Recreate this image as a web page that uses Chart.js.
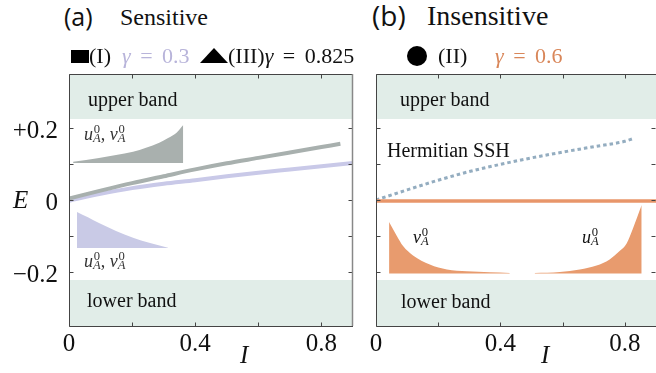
<!DOCTYPE html>
<html>
<head>
<meta charset="utf-8">
<script src="https://cdn.jsdelivr.net/npm/chart.js@4.4.1/dist/chart.umd.min.js"></script>
<style>
  body { margin: 0; background: #fff; }
  #wrap { position: relative; width: 656px; height: 373px; overflow: hidden; font-family: "Liberation Serif", "Times New Roman", serif; }
  canvas { position: absolute; top: 60px; }
  .t { position: absolute; white-space: nowrap; line-height: 1; color: #111; }
  .g { word-spacing: 4px; }
  .sans { font-family: "Open Sans", sans-serif; }
  .ss { position: relative; display: inline-block; width: 0.62em; height: 0; font-size: 0.7em; }
  .ss .sp { position: absolute; left: 0.05em; bottom: 0.35em; line-height: 1; font-style: normal; }
  .ss .sb { position: absolute; left: 0; top: -0.6em; line-height: 1; font-style: italic; }
</style>
</head>
<body>
<div id="wrap">
  <canvas id="left" width="360" height="313" style="left:0"></canvas>
  <canvas id="right" width="296" height="313" style="left:360px"></canvas>

  <!-- titles -->
  <div class="t sans" style="left:64px;top:4px;font-size:25px">(a)</div>
  <div class="t" style="left:120px;top:5px;font-size:24px">Sensitive</div>
  <div class="t sans" style="left:372px;top:1px;font-size:28px">(b)</div>
  <div class="t" style="left:427px;top:2px;font-size:28px">Insensitive</div>

  <!-- legends -->
  <div style="position:absolute;left:71px;top:50px;width:18px;height:13px;background:#000"></div>
  <div class="t" style="left:89px;top:45px;font-size:22px">(I)</div>
  <div class="t g" style="left:122px;top:45px;font-size:22px;color:#b8b4da"><i>γ</i> = 0.3</div>
  <div style="position:absolute;left:200px;top:48px;width:0;height:0;border-left:14px solid transparent;border-right:14px solid transparent;border-bottom:15px solid #000"></div>
  <div class="t g" style="left:228px;top:45px;font-size:22px">(III)<i>γ</i> = 0.825</div>
  <div style="position:absolute;left:407px;top:46px;width:20px;height:20px;border-radius:50%;background:#000"></div>
  <div class="t" style="left:438px;top:45px;font-size:22px">(II)</div>
  <div class="t g" style="left:495px;top:45px;font-size:22px;color:#d9875a"><i>γ</i> = 0.6</div>

  <!-- left panel text -->
  <div class="t" style="left:88px;top:89px;font-size:20px">upper band</div>
  <div class="t" style="left:87px;top:290px;font-size:20px">lower band</div>
  <div class="t" style="left:84px;top:125px;font-size:18px;color:#333"><i>u</i><span class="ss"><span class="sp">0</span><span class="sb">A</span></span>, <i>v</i><span class="ss"><span class="sp">0</span><span class="sb">A</span></span></div>
  <div class="t" style="left:84px;top:252px;font-size:18px;color:#333"><i>u</i><span class="ss"><span class="sp">0</span><span class="sb">A</span></span>, <i>v</i><span class="ss"><span class="sp">0</span><span class="sb">A</span></span></div>
  <div class="t" style="left:13px;top:187px;font-size:25px"><i>E</i></div>
  <div class="t" style="left:240px;top:342px;font-size:25px"><i>I</i></div>

  <!-- right panel text -->
  <div class="t" style="left:400px;top:89px;font-size:20px">upper band</div>
  <div class="t" style="left:401px;top:291px;font-size:20px">lower band</div>
  <div class="t" style="left:387px;top:140px;font-size:20px">Hermitian SSH</div>
  <div class="t" style="left:413px;top:228px;font-size:18px"><i>v</i><span class="ss"><span class="sp">0</span><span class="sb">A</span></span></div>
  <div class="t" style="left:582px;top:228px;font-size:18px"><i>u</i><span class="ss"><span class="sp">0</span><span class="sb">A</span></span></div>
  <div class="t" style="left:541px;top:342px;font-size:25px"><i>I</i></div>
</div>

<script>
// axes
const xTicks = [0, 0.2, 0.4, 0.6, 0.8];
const xLabelVals = [0, 0.4, 0.8];
const yTicks = [-0.2, -0.1, 0, 0.1, 0.2];
const yLabelVals = [-0.2, 0, 0.2];
const xRange = [0, 0.9];
const yRange = [-0.35, 0.35];

// band edges
const bandI = [0, 0.9];
const upperEdge = 0.225;
const lowerEdge = -0.222;

// (a) curves
const grayI = [0, 0.1, 0.2, 0.3, 0.4, 0.5, 0.6, 0.7, 0.8, 0.86];
const grayE = [0.004, 0.026, 0.047, 0.066, 0.085, 0.102, 0.117, 0.132, 0.147, 0.156];
const purpleI = [0, 0.1, 0.2, 0.3, 0.4, 0.5, 0.6, 0.7, 0.8, 0.9];
const purpleE = [-0.002, 0.017, 0.033, 0.045, 0.055, 0.066, 0.076, 0.085, 0.094, 0.103];

// (a) insets
const grayInsetI = [0.013, 0.095, 0.149, 0.203, 0.244, 0.286, 0.314, 0.340, 0.362];
const grayInsetE = [0.106, 0.117, 0.125, 0.134, 0.145, 0.159, 0.172, 0.186, 0.208];
const grayInsetBase = 0.103;
const purpleInsetI = [0.025, 0.060, 0.095, 0.149, 0.203, 0.254, 0.314];
const purpleInsetE = [-0.033, -0.048, -0.064, -0.086, -0.105, -0.119, -0.133];
const purpleInsetBase = -0.133;

// (b) curves
const hermI = [0, 0.1, 0.2, 0.3, 0.4, 0.5, 0.6, 0.7, 0.8, 0.825];
const hermE = [0, 0.028, 0.055, 0.079, 0.099, 0.117, 0.133, 0.148, 0.163, 0.17];
const flatI = [0, 0.9];
const flatE = [-0.003, -0.003];

// (b) insets
const vInsetI = [0.042, 0.067, 0.087, 0.119, 0.173, 0.228, 0.292, 0.366, 0.430];
const vInsetE = [-0.061, -0.100, -0.128, -0.154, -0.179, -0.193, -0.198, -0.201, -0.203];
const uInsetI = [0.510, 0.591, 0.655, 0.709, 0.751, 0.783, 0.806, 0.825, 0.854];
const uInsetE = [-0.203, -0.200, -0.193, -0.182, -0.165, -0.142, -0.120, -0.081, -0.014];
const orangeBase = -0.204;

const BAND = 'rgb(225,237,232)';
const zip = (xs, ys) => xs.map((x, i) => ({ x, y: ys[i] }));

function line(xs, ys, color, width, extra) {
    return Object.assign({
        data: zip(xs, ys), borderColor: color, borderWidth: width,
        pointRadius: 0, fill: false, cubicInterpolationMode: 'monotone'
    }, extra || {});
}

function area(xs, ys, base, color) {
    return {
        data: zip(xs, ys), borderWidth: 0, borderColor: color, backgroundColor: color,
        pointRadius: 0, fill: { value: base }, cubicInterpolationMode: 'monotone'
    };
}

function bands() {
    return [
        { data: zip(bandI, [upperEdge, upperEdge]), borderWidth: 0, pointRadius: 0, backgroundColor: BAND, fill: 'end' },
        { data: zip(bandI, [lowerEdge, lowerEdge]), borderWidth: 0, pointRadius: 0, backgroundColor: BAND, fill: 'start' }
    ];
}

// frame with inward ticks
const frame = {
    id: 'frame',
    afterDatasetsDraw(chart, args, opts) {
        const { ctx, chartArea: a, scales: { x, y } } = chart;
        const seg = (x1, y1, x2, y2) => { ctx.beginPath(); ctx.moveTo(x1, y1); ctx.lineTo(x2, y2); ctx.stroke(); };
        ctx.save();
        ctx.strokeStyle = '#444';
        ctx.lineWidth = 1;
        const L = a.left + 0.5, B = a.bottom + 0.5, T = a.top + 0.5, R = a.right - 0.5;
        seg(L, T, L, B);
        seg(L, B, a.right, B);
        seg(L, T, a.right, T);
        xTicks.forEach(v => {
            const p = Math.round(x.getPixelForValue(v)) + 0.5;
            seg(p, B, p, B - 4);
            seg(p, T, p, T + 4);
        });
        yTicks.forEach(v => {
            const p = Math.round(y.getPixelForValue(v)) + 0.5;
            seg(L, p, L + 4, p);
            seg(R, p, R - 4, p);
        });
        if (opts.rightAxis) {
            ctx.strokeStyle = '#888';
            ctx.lineWidth = 1.5;
            seg(R, a.top, R, a.bottom);
        }
        ctx.restore();
    }
};

function noPad(s) {
    s.paddingTop = 0; s.paddingBottom = 0; s.paddingLeft = 0; s.paddingRight = 0;
}

function makeChart(id, datasets, yWidth, padRight, showY) {
    const tickFont = { family: "'Liberation Serif', 'Times New Roman', serif", size: 25 };
    return new Chart(document.getElementById(id), {
        type: 'line',
        data: { datasets },
        options: {
            responsive: false,
            animation: false,
            layout: { padding: { top: 14, right: padRight, left: 0, bottom: 0 } },
            plugins: { legend: { display: false }, tooltip: { enabled: false }, frame: { rightAxis: showY } },
            scales: {
                x: {
                    type: 'linear', min: xRange[0], max: xRange[1],
                    grid: { display: false, drawTicks: false }, border: { display: false },
                    afterBuildTicks: s => { s.ticks = xLabelVals.map(v => ({ value: v })); },
                    afterFit: s => { s.height = 47; noPad(s); },
                    ticks: {
                        font: tickFont, color: '#111', padding: 3, maxRotation: 0, autoSkip: false,
                        callback: v => String(Math.round(v * 10) / 10)
                    }
                },
                y: {
                    type: 'linear', min: yRange[0], max: yRange[1],
                    grid: { display: false, drawTicks: false }, border: { display: false },
                    afterBuildTicks: s => { s.ticks = yLabelVals.map(v => ({ value: v })); },
                    afterFit: s => { s.width = yWidth; noPad(s); },
                    ticks: {
                        display: showY, font: tickFont, color: '#111', padding: 11, labelOffset: 3,
                        callback: v => v > 0 ? '+' + v : (v < 0 ? '\u2212' + Math.abs(v) : '0')
                    }
                }
            }
        },
        plugins: [frame]
    });
}

makeChart('left', [
    line(grayI, grayE, 'rgb(168,176,174)', 4),
    line(purpleI, purpleE, 'rgb(201,201,232)', 4),
    area(grayInsetI, grayInsetE, grayInsetBase, 'rgb(169,176,174)'),
    area(purpleInsetI, purpleInsetE, purpleInsetBase, 'rgb(201,202,230)'),
    ...bands()
], 69, 7, true);

makeChart('right', [
    line(flatI, flatE, 'rgb(232,150,106)', 3.5),
    line(hermI, hermE, 'rgb(148,173,192)', 3, { borderDash: [3.5, 3] }),
    area(vInsetI, vInsetE, orangeBase, 'rgb(232,155,110)'),
    area(uInsetI, uInsetE, orangeBase, 'rgb(232,155,110)'),
    ...bands()
], 16, 0, false);
</script>
</body>
</html>
